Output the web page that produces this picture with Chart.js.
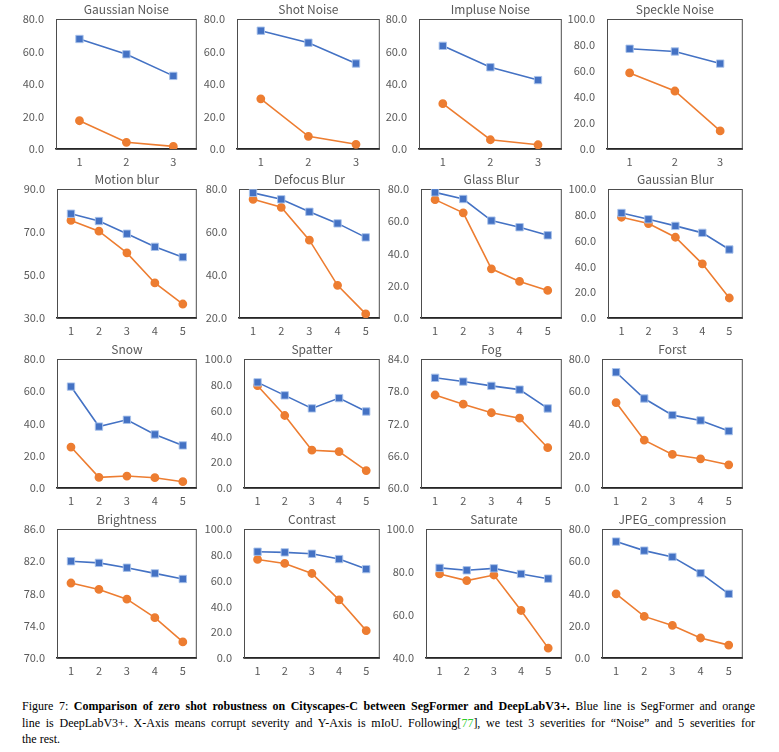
<!DOCTYPE html>
<html lang="en">
<head>
    <meta charset="UTF-8">
    <title>Figure 7 - Cityscapes-C robustness</title>
    <style>
        body {
            margin: 0;
            background: #fff;
            width: 779px;
            height: 752px;
            position: relative;
            overflow: hidden;
        }
        .panel {
            position: absolute;
        }
        .caption {
            position: absolute;
            left: 22px;
            top: 698px;
            width: 733px;
            font-family: "Liberation Serif", "DejaVu Serif", serif;
            font-size: 12px;
            line-height: 16.5px;
            color: #000;
        }
        .caption div {
            white-space: nowrap;
        }
        .caption .just {
            text-align: justify;
            text-align-last: justify;
        }
        .ref {
            color: #2ecc2e;
        }
    </style>
    <script src="https://cdn.jsdelivr.net/npm/chart.js"></script>
</head>
<body>

<div id="panels"></div>

<div class="caption">
    <div class="just">Figure 7: <b>Comparison of zero shot robustness on Cityscapes-C between SegFormer and DeepLabV3+.</b> Blue line is SegFormer and orange</div>
    <div class="just">line is DeepLabV3+. X-Axis means corrupt severity and Y-Axis is mIoU. Following[<span class="ref">77</span>], we test 3 severities for “Noise” and 5 severities for</div>
    <div>the rest.</div>
</div>

<script>
    // Corruption names (panel order, row by row)
    const titles = ['Gaussian Noise', 'Shot Noise', 'Impluse Noise', 'Speckle Noise',
                    'Motion blur', 'Defocus Blur', 'Glass Blur', 'Gaussian Blur',
                    'Snow', 'Spatter', 'Fog', 'Forst',
                    'Brightness', 'Contrast', 'Saturate', 'JPEG_compression'];

    const severity3 = ['1', '2', '3'];
    const severity5 = ['1', '2', '3', '4', '5'];

    // mIoU values, SegFormer (blue) and DeepLabV3+ (orange)
    const gaussianNoiseSeg = [67.7, 58.3, 45.0];
    const gaussianNoiseDlb = [17.4, 4.1, 1.6];
    const shotNoiseSeg = [72.8, 65.4, 52.6];
    const shotNoiseDlb = [30.9, 7.8, 2.9];
    const impulseNoiseSeg = [63.5, 50.3, 42.4];
    const impulseNoiseDlb = [27.9, 5.7, 2.6];
    const speckleNoiseSeg = [77.1, 75.0, 65.7];
    const speckleNoiseDlb = [58.5, 44.6, 13.9];

    const motionBlurSeg = [78.5, 75.1, 69.2, 63.1, 58.3];
    const motionBlurDlb = [75.4, 70.4, 60.3, 46.3, 36.5];
    const defocusBlurSeg = [78.2, 75.2, 69.4, 64.0, 57.5];
    const defocusBlurDlb = [75.2, 71.5, 56.2, 35.2, 21.9];
    const glassBlurSeg = [77.9, 73.8, 60.4, 56.3, 51.3];
    const glassBlurDlb = [73.4, 65.2, 30.5, 22.7, 17.1];
    const gaussianBlurSeg = [81.4, 76.5, 71.4, 66.0, 53.1];
    const gaussianBlurDlb = [78.1, 73.2, 62.6, 42.0, 15.5];

    const snowSeg = [62.9, 38.1, 42.3, 33.2, 26.4];
    const snowDlb = [25.4, 6.6, 7.4, 6.4, 3.9];
    const spatterSeg = [81.9, 71.8, 61.7, 69.7, 59.3];
    const spatterDlb = [79.3, 56.2, 29.3, 28.2, 13.5];
    const fogSeg = [80.5, 79.8, 79.0, 78.3, 74.8];
    const fogDlb = [77.3, 75.6, 74.0, 73.0, 67.5];
    const frostSeg = [71.8, 55.5, 45.2, 41.9, 35.3];
    const frostDlb = [53.0, 29.7, 20.8, 18.1, 14.4];

    const brightnessSeg = [82.0, 81.8, 81.2, 80.5, 79.8];
    const brightnessDlb = [79.3, 78.5, 77.3, 75.0, 72.0];
    const contrastSeg = [82.4, 81.9, 80.8, 76.7, 68.9];
    const contrastDlb = [76.4, 73.3, 65.5, 45.1, 21.2];
    const saturateSeg = [81.9, 80.8, 81.7, 79.1, 76.9];
    const saturateDlb = [79.1, 76.0, 78.6, 62.1, 44.6];
    const jpegSeg = [72.2, 66.6, 62.7, 52.6, 39.8];
    const jpegDlb = [39.8, 25.8, 20.2, 12.4, 8.0];

    const segSeries = [gaussianNoiseSeg, shotNoiseSeg, impulseNoiseSeg, speckleNoiseSeg,
                       motionBlurSeg, defocusBlurSeg, glassBlurSeg, gaussianBlurSeg,
                       snowSeg, spatterSeg, fogSeg, frostSeg,
                       brightnessSeg, contrastSeg, saturateSeg, jpegSeg];
    const dlbSeries = [gaussianNoiseDlb, shotNoiseDlb, impulseNoiseDlb, speckleNoiseDlb,
                       motionBlurDlb, defocusBlurDlb, glassBlurDlb, gaussianBlurDlb,
                       snowDlb, spatterDlb, fogDlb, frostDlb,
                       brightnessDlb, contrastDlb, saturateDlb, jpegDlb];

    // y axis ranges per panel
    const yMin  = [0, 0, 0, 0,   30, 20, 0, 0,   0, 0, 60, 0,   70, 0, 40, 0];
    const yMax  = [80, 80, 80, 100,   90, 80, 80, 100,   80, 100, 84, 80,   86, 100, 100, 80];
    const yStep = [20, 20, 20, 20,   20, 20, 20, 20,   20, 20, 6, 20,   4, 20, 20, 20];

    // layout: plot box left edge per panel, column starts/right edges, row tops/bottoms
    const boxLeft  = [56, 237, 419, 607,   57, 239, 421, 608,   57, 244, 421, 602,   57, 244, 426, 602];
    const colStart = [0, 198, 381, 564];
    const colRight = [197, 380, 562, 743];
    const rowTop = [19, 189, 359, 529];
    const rowBottom = [149, 318, 488, 658];

    const BLUE = '#4472C4';
    const ORANGE = '#ED7D31';
    const TEXT = '#595959';
    const FONT = '"Noto Sans CJK SC", "Noto Sans", sans-serif';
    const TITLE_H = 19;
    const XAXIS_H = 22;
    const PAD_R = 6;

    // draws the box round the plot area
    const framePlugin = {
        id: 'frame',
        beforeDatasetsDraw(chart) {
            const a = chart.chartArea;
            const ctx = chart.ctx;
            ctx.save();
            ctx.strokeStyle = '#4d4d4d';
            ctx.lineWidth = 1;
            ctx.strokeRect(a.left + 0.5, a.top + 0.5, a.right - a.left - 1, a.bottom - a.top);
            ctx.restore();
        }
    };

    const holder = document.getElementById('panels');

    titles.forEach((title, i) => {
        const row = Math.floor(i / 4);
        const col = i % 4;
        const left = colStart[col];
        const yw = boxLeft[i] - left;
        const width = colRight[col] - left + PAD_R;
        const height = (rowBottom[row] - rowTop[row]) + TITLE_H + XAXIS_H;

        const div = document.createElement('div');
        div.className = 'panel';
        div.style.left = left + 'px';
        div.style.top = (rowTop[row] - TITLE_H) + 'px';
        div.style.width = width + 'px';
        div.style.height = height + 'px';
        const canvas = document.createElement('canvas');
        div.appendChild(canvas);
        holder.appendChild(div);

        const labels = segSeries[i].length === 3 ? severity3 : severity5;

        new Chart(canvas.getContext('2d'), {
            type: 'line',
            data: {
                labels: labels,
                datasets: [{
                    label: 'SegFormer',
                    data: segSeries[i],
                    borderColor: BLUE,
                    backgroundColor: BLUE,
                    pointBackgroundColor: BLUE,
                    pointBorderColor: 'rgba(170, 195, 235, 0.9)',
                    pointBorderWidth: 1,
                    pointStyle: 'rect',
                    pointRadius: 5.2,
                    borderWidth: 1.6,
                    tension: 0
                }, {
                    label: 'DeepLabV3+',
                    data: dlbSeries[i],
                    borderColor: ORANGE,
                    backgroundColor: ORANGE,
                    pointBackgroundColor: ORANGE,
                    pointBorderColor: ORANGE,
                    pointStyle: 'circle',
                    pointRadius: 3.6,
                    borderWidth: 1.6,
                    tension: 0
                }]
            },
            options: {
                responsive: true,
                maintainAspectRatio: false,
                animation: false,
                events: [],
                layout: { padding: { top: 0, right: PAD_R, bottom: 0, left: 0 } },
                plugins: {
                    legend: { display: false },
                    tooltip: { enabled: false },
                    title: {
                        display: true,
                        fullSize: false,
                        text: title,
                        color: TEXT,
                        font: { family: FONT, size: 12, weight: 'normal', lineHeight: 1.2 },
                        padding: { top: 2, bottom: 2.6 }
                    }
                },
                scales: {
                    x: {
                        offset: true,
                        grid: { display: false, drawTicks: false },
                        border: { display: true, color: '#262626', width: 1.5 },
                        ticks: {
                            color: TEXT,
                            padding: 6,
                            maxRotation: 0,
                            font: { family: FONT, size: 11 }
                        },
                        afterFit(scale) { scale.height = XAXIS_H; }
                    },
                    y: {
                        min: yMin[i],
                        max: yMax[i],
                        grid: { display: false, drawTicks: false },
                        border: { display: false },
                        ticks: {
                            stepSize: yStep[i],
                            color: TEXT,
                            padding: 12,
                            font: { family: FONT, size: 11 },
                            callback: (v) => Number(v).toFixed(1)
                        },
                        afterFit(scale) { scale.width = yw; }
                    }
                }
            },
            plugins: [framePlugin]
        });
    });
</script>

</body>
</html>
